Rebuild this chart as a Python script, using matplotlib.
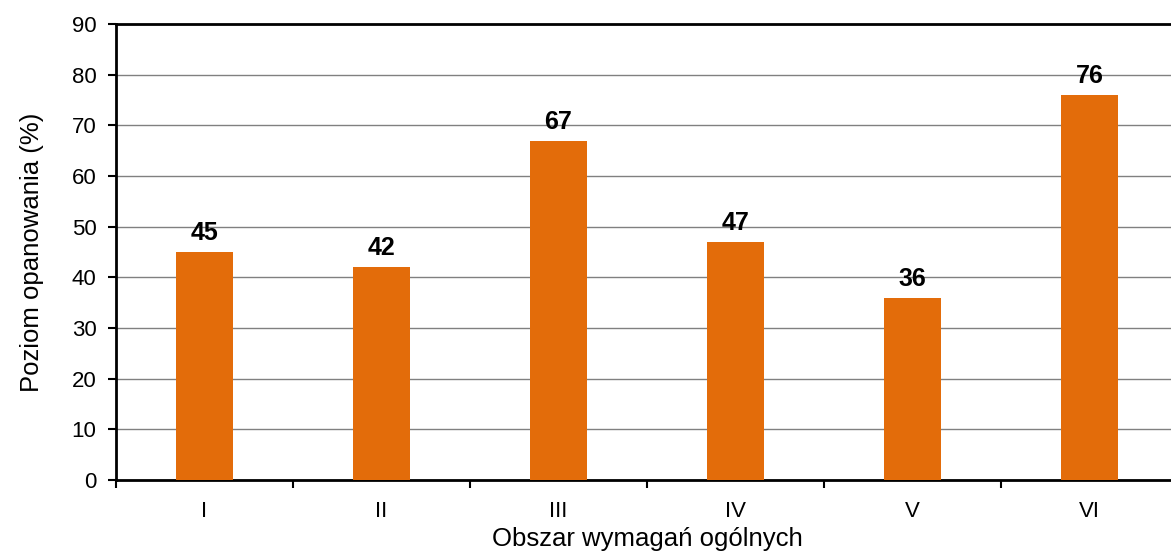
import numpy as np
import matplotlib
matplotlib.use('Agg')
import matplotlib.pyplot as plt

plt.rcParams['font.family'] = ['Liberation Sans', 'DejaVu Sans']

obszary = ['I', 'II', 'III', 'IV', 'V', 'VI']
wyniki = [45, 42, 67, 47, 36, 76]

fig = plt.figure(figsize=(11.71, 5.57), dpi=100)
ax = fig.add_axes([116/1171, 77/557, 1062/1171, 456/557])

x = np.arange(len(obszary))
ax.bar(x, wyniki, width=0.32, color='#E36C0A', zorder=3)

for xi, v in zip(x, wyniki):
    ax.annotate('%d' % v, (xi, v), xytext=(0, 5), textcoords='offset points',
                ha='center', va='bottom', fontsize=18, fontweight='bold')

ax.set_xlim(-0.5, len(obszary) - 0.5)
ax.set_ylim(0, 90)
ax.set_yticks(np.arange(0, 91, 10))
ax.set_xticks(x)
ax.set_xticklabels(obszary, fontsize=16)
ax.set_xticks(np.arange(-0.5, len(obszary), 1), minor=True)
ax.tick_params(axis='x', which='major', length=0, pad=15)
ax.tick_params(axis='x', which='minor', length=6, width=1.5, direction='out')
ax.tick_params(axis='y', labelsize=16, length=6, width=1.5, direction='out', pad=8)

ax.yaxis.grid(True, color='#808080', linewidth=1.0, zorder=0)
ax.set_axisbelow(True)
for s in ['left', 'bottom', 'top']:
    ax.spines[s].set_linewidth(2)
    ax.spines[s].set_color('black')
ax.spines['right'].set_visible(False)

ax.set_xlabel('Obszar wymagań ogólnych', fontsize=18.5, labelpad=4)
ax.set_ylabel('Poziom opanowania (%)', fontsize=18.5, labelpad=20)

plt.savefig('out.png', dpi=100)
